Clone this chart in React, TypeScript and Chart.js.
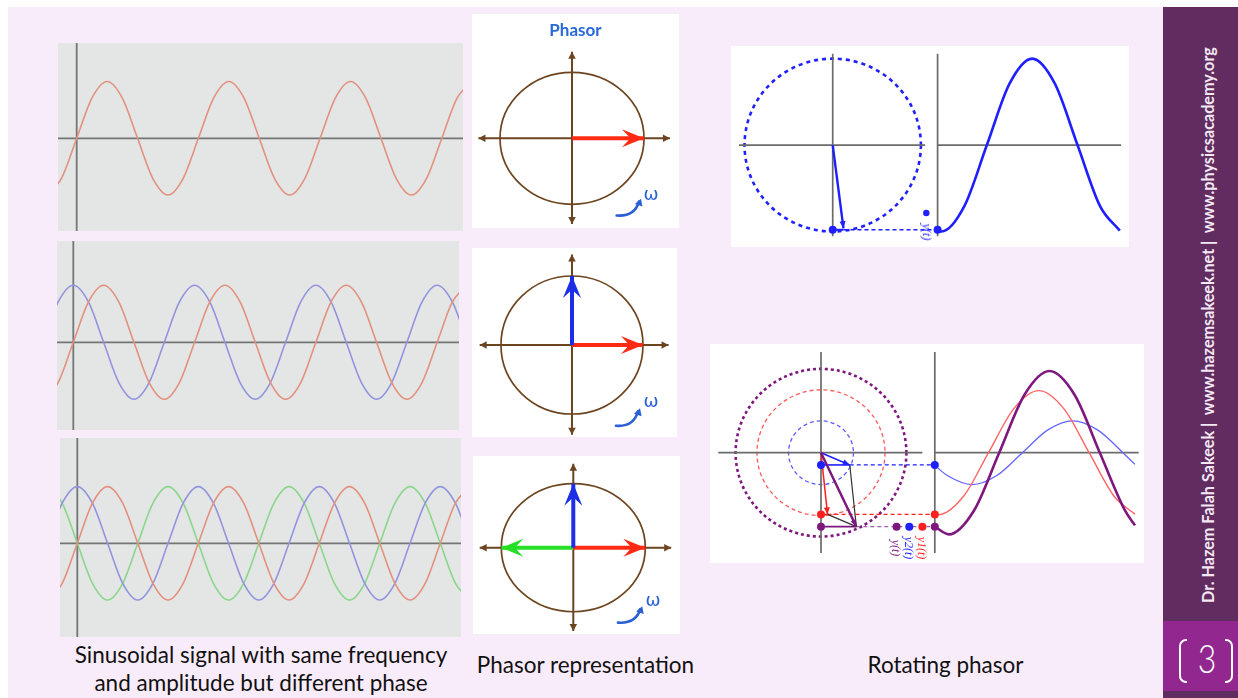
import React, { useEffect, useRef } from "react";
import { Chart, registerables } from "chart.js";
Chart.register(...registerables);

// ---------- DATA ----------
// phase (degrees) of the sampled points of the sinusoid panels
const PHASE_DEG = [-90,-45,0,45,90,135,180,225,270,315,360,405,450,495,540,585,630,675,720,765,810,855,900,945,990,1035,1080,1125,1170];
const RED_SIN = [-1,-0.707,0,0.707,1,0.707,0,-0.707,-1,-0.707,0,0.707,1,0.707,0,-0.707,-1,-0.707,0,0.707,1,0.707,0,-0.707,-1,-0.707,0,0.707,1];
const BLUE_COS = [0,0.707,1,0.707,0,-0.707,-1,-0.707,0,0.707,1,0.707,0,-0.707,-1,-0.707,0,0.707,1,0.707,0,-0.707,-1,-0.707,0,0.707,1,0.707,0];
const GREEN_NEG_SIN = [1,0.707,0,-0.707,-1,-0.707,0,0.707,1,0.707,0,-0.707,-1,-0.707,0,0.707,1,0.707,0,-0.707,-1,-0.707,0,0.707,1,0.707,0,-0.707,-1];

// phasor panels (unit circle)
const PHASOR_AXIS_X = [-1.3, 1.36];
const PHASOR_AXIS_Y = [1.31, -1.3];
const PHASOR_RED = [1, 0];
const PHASOR_BLUE = [0, 1];
const PHASOR_GREEN = [-1, 0];
const OMEGA_ARROW_X = [0.62, 0.87, 0.93];
const OMEGA_ARROW_Y = [-1.17, -1.19, -0.96];

// rotating phasor 1
const R1_CURVE_DEG = [0, 8, 53, 98, 143, 188, 233, 278, 323, 362];
const R1_CURVE_VAL = [-0.99, -1, -0.71, 0, 0.71, 1, 0.71, 0, -0.71, -0.99];
const R1_TIP = [0.122, -0.963];
const R1_PROJ_Y = -0.98;
const R1_RIGHT_X = 1.189;
const R1_AXIS_LEFT_X = [-1.063, 1.048];
const R1_AXIS_RIGHT_END = 3.27;
const R1_AXIS_Y = [1.056, -1.056];
const R1_LABEL_DOT = [1.061, -0.786];

// rotating phasor 2
const R2_BLUE_DEG = [0, 21.6, 66.6, 111.6, 156.6, 201.6, 246.6, 291.6, 336.6, 358];
const R2_BLUE_VAL = [-0.151, -0.269, -0.38, -0.269, 0, 0.269, 0.38, 0.269, 0, -0.139];
const R2_RED_DEG = [0, 6, 51, 96, 141, 186, 231, 276, 321, 358];
const R2_RED_VAL = [-0.736, -0.74, -0.523, 0, 0.523, 0.74, 0.523, 0, -0.523, -0.733];
const R2_PURPLE_DEG = [0, 25.1, 70.1, 115.1, 160.1, 205.1, 250.1, 295.1, 340.1, 358];
const R2_PURPLE_VAL = [-0.882, -0.974, -0.689, 0, 0.689, 0.974, 0.689, 0, -0.689, -0.867];
const R2_BLUE_TIP = [0.337, -0.146];
const R2_RED_TIP = [0.077, -0.736];
const R2_PURPLE_TIP = [0.414, -0.882];
const R2_RADII = [0.38, 0.75, 1.0];
const R2_RIGHT_X = 1.333;
const R2_AXIS_LEFT_X = [-1.203, 1.187];
const R2_AXIS_RIGHT_END = 3.72;
const R2_AXIS_Y = [1.2, -1.195];
const R2_LABEL_DOT_X = [0.885, 1.034, 1.187];

// ---------- HELPERS ----------
type P = { x: number; y: number };
const pts = (xs: number[], ys: number[]): P[] => xs.map((x, i) => ({ x, y: ys[i] }));
const seg = (a: number[], b: number[]): P[] => [{ x: a[0], y: a[1] }, { x: b[0], y: b[1] }];

const ln = (data: P[], color: string, width: number, more: any = {}) => ({
  data, borderColor: color, backgroundColor: color, borderWidth: width,
  pointRadius: 0, fill: false, tension: 0, ...more,
});
const curve = (data: P[], color: string, width: number, more: any = {}) =>
  ln(data, color, width, { cubicInterpolationMode: "monotone", ...more });
const dots = (data: P[], color: string, r = 4, more: any = {}) => ({
  data, showLine: false, pointRadius: r, pointBackgroundColor: color,
  pointBorderColor: color, pointBorderWidth: 0, borderColor: color, backgroundColor: color, ...more,
});

function baseOpts(xr: number[], yr: number[], x2?: number[]) {
  const scales: any = {
    x: { type: "linear", min: xr[0], max: xr[1], display: false },
    y: { type: "linear", min: yr[0], max: yr[1], display: false },
  };
  if (x2) scales.x2 = { type: "linear", axis: "x", min: x2[0], max: x2[1], display: false };
  return {
    responsive: false, animation: false, events: [], layout: { padding: 0 },
    plugins: { legend: { display: false }, tooltip: { enabled: false } },
    scales,
    elements: { point: { radius: 0, hoverRadius: 0 } },
  };
}

function drawHead(ctx: any, tx: number, ty: number, fx: number, fy: number, color: string, h: any) {
  const ang = Math.atan2(ty - fy, tx - fx);
  ctx.save();
  ctx.translate(tx, ty);
  ctx.rotate(ang);
  ctx.fillStyle = color;
  ctx.beginPath();
  ctx.moveTo(h.over || 0, 0);
  ctx.lineTo(-h.len, -h.half);
  ctx.lineTo(-h.len * (h.notch ?? 1), 0);
  ctx.lineTo(-h.len, h.half);
  ctx.closePath();
  ctx.fill();
  ctx.restore();
}

const arrowPlugin = {
  id: "arrowHeads",
  afterDatasetsDraw(chart: any) {
    const ctx = chart.ctx;
    chart.data.datasets.forEach((ds: any, i: number) => {
      const h = ds.heads;
      if (!h) return;
      const el = chart.getDatasetMeta(i).data as any[];
      if (el.length < 2) return;
      const color = h.color || ds.borderColor;
      if (h.end) drawHead(ctx, el[el.length - 1].x, el[el.length - 1].y, el[el.length - 2].x, el[el.length - 2].y, color, h.end);
      if (h.start) drawHead(ctx, el[0].x, el[0].y, el[1].x, el[1].y, color, h.start);
    });
  },
};

function circlePlugin(list: any[]) {
  return {
    id: "circles",
    beforeDatasetsDraw(chart: any) {
      const ctx = chart.ctx;
      const xs = chart.scales.x, ys = chart.scales.y;
      for (const c of list) {
        const cx = xs.getPixelForValue(c.cx), cy = ys.getPixelForValue(c.cy);
        const rx = Math.abs(xs.getPixelForValue(c.cx + c.r) - cx);
        const ry = Math.abs(ys.getPixelForValue(c.cy + c.r) - cy);
        ctx.save();
        ctx.beginPath();
        ctx.setLineDash(c.dash || []);
        ctx.lineWidth = c.width;
        ctx.strokeStyle = c.color;
        ctx.ellipse(cx, cy, rx, ry, 0, 0, Math.PI * 2);
        ctx.stroke();
        ctx.restore();
      }
    },
  };
}

const omegaArrowPlugin = {
  id: "omegaArrow",
  afterDatasetsDraw(chart: any) {
    const ctx = chart.ctx;
    const X = (v: number) => chart.scales.x.getPixelForValue(v);
    const Y = (v: number) => chart.scales.y.getPixelForValue(v);
    const x0 = X(OMEGA_ARROW_X[0]), y0 = Y(OMEGA_ARROW_Y[0]);
    const x1 = X(OMEGA_ARROW_X[1]), y1 = Y(OMEGA_ARROW_Y[1]);
    const x2 = X(OMEGA_ARROW_X[2]), y2 = Y(OMEGA_ARROW_Y[2]);
    ctx.save();
    ctx.strokeStyle = "#2a5fd6";
    ctx.lineWidth = 2.6;
    ctx.lineCap = "round";
    ctx.beginPath();
    ctx.moveTo(x0, y0);
    ctx.quadraticCurveTo(x1, y1, x2, y2);
    ctx.stroke();
    ctx.restore();
    drawHead(ctx, x2 + 2, y2 - 3, x1, y1, "#2a5fd6", { len: 7, half: 4, notch: 1 });
  },
};

// ---------- CHART CONFIGS ----------
const AXIS_GRAY = "rgba(95,98,97,0.85)";
const SIN_RED_C = "#e3917f";
const SIN_BLUE_C = "#9393de";
const SIN_GREEN_C = "#8bd68b";

function sineConfig(xr: number[], yr: number[], series: { vals: number[]; color: string }[]) {
  const ds: any[] = series.map((s) => curve(pts(PHASE_DEG, s.vals), s.color, 1.6));
  ds.push(ln([{ x: xr[0], y: 0 }, { x: xr[1], y: 0 }], AXIS_GRAY, 1.8));
  ds.push(ln([{ x: 0, y: yr[0] }, { x: 0, y: yr[1] }], AXIS_GRAY, 1.8));
  return { type: "line", data: { datasets: ds }, options: baseOpts(xr, yr), plugins: [] };
}

const BROWN = "#6c4520";
const P_RED = "#ff2a14";
const P_BLUE = "#1c2ee6";
const P_GREEN = "#27df27";

function phasorConfig(xr: number[], yr: number[], vecs: { v: number[]; color: string }[]) {
  const axisHead = { len: 7, half: 3.8, notch: 1 };
  const vecHead = { len: 22, half: 9, notch: 0.62 };
  const ds: any[] = vecs.map((p) =>
    ln(seg([0, 0], p.v), p.color, 4, { heads: { end: vecHead } })
  );
  ds.push(ln([{ x: PHASOR_AXIS_X[0], y: 0 }, { x: PHASOR_AXIS_X[1], y: 0 }], BROWN, 2, { heads: { start: axisHead, end: axisHead } }));
  ds.push(ln([{ x: 0, y: PHASOR_AXIS_Y[0] }, { x: 0, y: PHASOR_AXIS_Y[1] }], BROWN, 2, { heads: { start: axisHead, end: axisHead } }));
  return {
    type: "line",
    data: { datasets: ds },
    options: baseOpts(xr, yr),
    plugins: [arrowPlugin, circlePlugin([{ cx: 0, cy: 0, r: 1, color: BROWN, width: 1.7 }]), omegaArrowPlugin],
  };
}

const RP_GRAY = "#6b6b6b";
const RP_BLUE = "#1f1fff";
const RP_RED = "#ff1f1f";
const RP_PURPLE = "#7e177e";

function rot1Config() {
  const xr = [-1.108, 3.314], yr = [-1.133, 1.1], x2 = [-402.2, 372.3];
  const small = { len: 7, half: 3, notch: 1 };
  const ds: any[] = [
    dots([{ x: 0, y: R1_PROJ_Y }, { x: R1_RIGHT_X, y: R1_PROJ_Y }], RP_BLUE, 4),
    dots([{ x: R1_LABEL_DOT[0], y: R1_LABEL_DOT[1] }], RP_BLUE, 3.2),
    ln(seg([0, 0], R1_TIP), RP_BLUE, 2.4, { heads: { end: small } }),
    ln([{ x: 0, y: R1_PROJ_Y }, { x: R1_TIP[0], y: R1_PROJ_Y }], RP_BLUE, 2),
    ln([{ x: R1_TIP[0], y: R1_PROJ_Y }, { x: R1_RIGHT_X, y: R1_PROJ_Y }], RP_BLUE, 1.4, { borderDash: [4, 3] }),
    curve(pts(R1_CURVE_DEG, R1_CURVE_VAL), RP_BLUE, 2.6, { xAxisID: "x2" }),
    ln([{ x: R1_AXIS_LEFT_X[0], y: 0 }, { x: R1_AXIS_LEFT_X[1], y: 0 }], RP_GRAY, 1.7),
    ln([{ x: 0, y: R1_AXIS_Y[0] }, { x: 0, y: R1_AXIS_Y[1] }], RP_GRAY, 1.7),
    ln([{ x: R1_RIGHT_X, y: R1_AXIS_Y[0] }, { x: R1_RIGHT_X, y: R1_AXIS_Y[1] }], RP_GRAY, 1.7),
    ln([{ x: R1_RIGHT_X, y: 0 }, { x: R1_AXIS_RIGHT_END, y: 0 }], RP_GRAY, 1.7),
  ];
  return {
    type: "line",
    data: { datasets: ds },
    options: baseOpts(xr, yr, x2),
    plugins: [arrowPlugin, circlePlugin([{ cx: 0, cy: 0, r: 1, color: RP_BLUE, width: 2.6, dash: [4, 4] }])],
  };
}

function rot2Config() {
  const xr = [-1.253, 3.736], yr = [-1.268, 1.249], x2 = [-395.1, 367.0];
  const small = { len: 7, half: 3, notch: 1 };
  const yB = R2_BLUE_TIP[1], yR = R2_RED_TIP[1], yP = R2_PURPLE_TIP[1];
  const ds: any[] = [
    dots([{ x: 0, y: yB }, { x: R2_RIGHT_X, y: yB }, { x: R2_LABEL_DOT_X[1], y: yP }], RP_BLUE, 4),
    dots([{ x: 0, y: yR }, { x: R2_RIGHT_X, y: yR }, { x: R2_LABEL_DOT_X[2], y: yP }], RP_RED, 4),
    dots([{ x: 0, y: yP }, { x: R2_RIGHT_X, y: yP }, { x: R2_LABEL_DOT_X[0], y: yP }], RP_PURPLE, 4),
    ln(seg([0, 0], R2_PURPLE_TIP), RP_PURPLE, 2.4, { heads: { end: small } }),
    ln(seg([0, 0], R2_RED_TIP), RP_RED, 1.5, { heads: { end: small } }),
    ln(seg([0, 0], R2_BLUE_TIP), RP_BLUE, 1.5, { heads: { end: small } }),
    ln(seg(R2_BLUE_TIP, R2_PURPLE_TIP), "#333", 1.2),
    ln(seg(R2_RED_TIP, R2_PURPLE_TIP), "#333", 1.2),
    ln([{ x: 0, y: yB }, { x: R2_BLUE_TIP[0], y: yB }], RP_BLUE, 1.6),
    ln([{ x: R2_BLUE_TIP[0], y: yB }, { x: R2_RIGHT_X, y: yB }], RP_BLUE, 1.3, { borderDash: [4, 3] }),
    ln([{ x: 0, y: yR }, { x: R2_RED_TIP[0], y: yR }], RP_RED, 1.6),
    ln([{ x: R2_RED_TIP[0], y: yR }, { x: R2_RIGHT_X, y: yR }], RP_RED, 1.3, { borderDash: [4, 3] }),
    ln([{ x: 0, y: yP }, { x: R2_PURPLE_TIP[0], y: yP }], RP_PURPLE, 1.8),
    ln([{ x: R2_PURPLE_TIP[0], y: yP }, { x: R2_RIGHT_X, y: yP }], "#a060a8", 1.4, { borderDash: [4, 3] }),
    curve(pts(R2_PURPLE_DEG, R2_PURPLE_VAL), RP_PURPLE, 2.6, { xAxisID: "x2" }),
    curve(pts(R2_RED_DEG, R2_RED_VAL), "#ff6464", 1.4, { xAxisID: "x2" }),
    curve(pts(R2_BLUE_DEG, R2_BLUE_VAL), "#6464ff", 1.3, { xAxisID: "x2" }),
    ln([{ x: R2_AXIS_LEFT_X[0], y: 0 }, { x: R2_AXIS_LEFT_X[1], y: 0 }], RP_GRAY, 1.7),
    ln([{ x: 0, y: R2_AXIS_Y[0] }, { x: 0, y: R2_AXIS_Y[1] }], RP_GRAY, 1.7),
    ln([{ x: R2_RIGHT_X, y: R2_AXIS_Y[0] }, { x: R2_RIGHT_X, y: R2_AXIS_Y[1] }], RP_GRAY, 1.7),
    ln([{ x: R2_RIGHT_X, y: 0 }, { x: R2_AXIS_RIGHT_END, y: 0 }], RP_GRAY, 1.7),
  ];
  return {
    type: "line",
    data: { datasets: ds },
    options: baseOpts(xr, yr, x2),
    plugins: [
      arrowPlugin,
      circlePlugin([
        { cx: 0, cy: 0, r: R2_RADII[2], color: RP_PURPLE, width: 2.6, dash: [3, 3] },
        { cx: 0, cy: 0, r: R2_RADII[1], color: "#ff5a5a", width: 1.3, dash: [4, 3] },
        { cx: 0, cy: 0, r: R2_RADII[0], color: "#5a5aff", width: 1.3, dash: [4, 3] },
      ]),
    ],
  };
}

// ---------- COMPONENTS ----------
function ChartBox({ left, top, width, height, bg, make }: any) {
  const ref = useRef<HTMLCanvasElement | null>(null);
  useEffect(() => {
    if (!ref.current) return;
    const c = new Chart(ref.current, make());
    return () => c.destroy();
  }, []);
  return (
    <div style={{ position: "absolute", left, top, width, height, background: bg }}>
      <canvas ref={ref} width={width} height={height} style={{ display: "block", width, height }} />
    </div>
  );
}

function RotText({ x, y, text, color, size = 12, angle = 90 }: any) {
  return (
    <div
      style={{
        position: "absolute", left: x, top: y, transform: `translate(-50%,-50%) rotate(${angle}deg)`,
        color, fontSize: size, fontFamily: '"Liberation Serif", serif', fontStyle: "italic",
        whiteSpace: "nowrap", lineHeight: 1,
      }}
    >
      {text}
    </div>
  );
}

function Omega({ x, y }: any) {
  return (
    <div
      style={{
        position: "absolute", left: x, top: y, transform: "translate(-50%,-50%)",
        color: "#2a5fd6", fontSize: 18, fontFamily: '"DejaVu Sans", sans-serif', lineHeight: 1,
      }}
    >
      ω
    </div>
  );
}

const SINE_BG = "#e3e6e5";

export default function App() {
  const caption: any = {
    position: "absolute", fontFamily: "Lato, sans-serif", fontSize: 22.5, color: "#111",
    textAlign: "center", lineHeight: "28px", whiteSpace: "nowrap",
  };
  return (
    <div style={{ position: "fixed", left: 0, top: 0, width: 1238, height: 698, background: "#ffffff", overflow: "hidden" }}>
      <div style={{ position: "absolute", left: 8, top: 7, width: 1230, height: 691, background: "#f9ecfa" }} />
      {/* sidebar */}
      <div style={{ position: "absolute", left: 1163, top: 7, width: 75, height: 691, background: "#612d60" }} />
      <div style={{ position: "absolute", left: 1163, top: 621, width: 75, height: 70, background: "#92278f" }} />
      <div
        style={{
          position: "absolute", left: 1208, top: 325, transform: "translate(-50%,-50%) rotate(-90deg)",
          color: "#f4e8f4", fontFamily: "Lato, sans-serif", fontWeight: 700, fontSize: 16.2,
          whiteSpace: "pre", lineHeight: 1,
        }}
      >
        {"Dr. Hazem Falah Sakeek |  www.hazemsakeek.net |  www.physicsacademy.org"}
      </div>
      <div style={{ position: "absolute", left: 1179, top: 639, width: 6, height: 40, border: "2px solid #fff", borderRight: "none", borderRadius: "7px 0 0 7px" }} />
      <div style={{ position: "absolute", left: 1225, top: 639, width: 6, height: 40, border: "2px solid #fff", borderLeft: "none", borderRadius: "0 7px 7px 0" }} />
      <div
        style={{
          position: "absolute", left: 1207, top: 658, transform: "translate(-50%,-50%) scaleX(0.8)",
          color: "#fff", fontFamily: "Lato, sans-serif", fontWeight: 300, fontSize: 40, lineHeight: 1,
        }}
      >
        3
      </div>

      {/* sinusoid panels */}
      <ChartBox left={58} top={43} width={405} height={188} bg={SINE_BG}
        make={() => sineConfig([-55.3, 1142.7], [-1.635, 1.68], [{ vals: RED_SIN, color: SIN_RED_C }])} />
      <ChartBox left={57} top={241} width={402} height={189} bg={SINE_BG}
        make={() => sineConfig([-48.4, 1144.7], [-1.539, 1.777], [
          { vals: RED_SIN, color: SIN_RED_C }, { vals: BLUE_COS, color: SIN_BLUE_C }])} />
      <ChartBox left={60} top={438} width={401} height={199} bg={SINE_BG}
        make={() => sineConfig([-51.5, 1141.6], [-1.653, 1.857], [
          { vals: RED_SIN, color: SIN_RED_C }, { vals: BLUE_COS, color: SIN_BLUE_C }, { vals: GREEN_NEG_SIN, color: SIN_GREEN_C }])} />

      {/* phasor panels */}
      <ChartBox left={472} top={14} width={207} height={214} bg="#ffffff"
        make={() => phasorConfig([-1.389, 1.486], [-1.359, 1.883], [{ v: PHASOR_RED, color: P_RED }])} />
      <ChartBox left={472} top={248} width={205} height={189} bg="#ffffff"
        make={() => phasorConfig([-1.408, 1.479], [-1.333, 1.406], [
          { v: PHASOR_BLUE, color: P_BLUE }, { v: PHASOR_RED, color: P_RED }])} />
      <ChartBox left={473} top={456} width={207} height={178} bg="#ffffff"
        make={() => phasorConfig([-1.393, 1.482], [-1.348, 1.433], [
          { v: PHASOR_BLUE, color: P_BLUE }, { v: PHASOR_RED, color: P_RED }, { v: PHASOR_GREEN, color: P_GREEN }])} />
      <div style={{ position: "absolute", left: 472, top: 19, width: 207, textAlign: "center", color: "#2a6ad8", fontFamily: "Lato, sans-serif", fontWeight: 700, fontSize: 17, lineHeight: "22px" }}>
        Phasor
      </div>
      <Omega x={651} y={194} />
      <Omega x={651} y={401} />
      <Omega x={653} y={600} />

      {/* rotating phasors */}
      <ChartBox left={731} top={46} width={398} height={201} bg="#ffffff" make={rot1Config} />
      <ChartBox left={710} top={344} width={434} height={219} bg="#ffffff" make={rot2Config} />
      <RotText x={926.5} y={231.5} text="y(t)" color={RP_BLUE} size={12} />
      <RotText x={896} y={548} text="y(t)" color={RP_PURPLE} size={12} />
      <RotText x={909} y={548} text="y2(t)" color={RP_BLUE} size={12} />
      <RotText x={922.3} y={548} text="y1(t)" color={RP_RED} size={12} />

      {/* captions */}
      <div style={{ ...caption, left: 41, top: 641, width: 440 }}>
        Sinusoidal signal with same frequency
        <br />
        and amplitude but different phase
      </div>
      <div style={{ ...caption, left: 455, top: 651, width: 261 }}>Phasor representation</div>
      <div style={{ ...caption, left: 835, top: 651, width: 221 }}>Rotating phasor</div>
    </div>
  );
}
